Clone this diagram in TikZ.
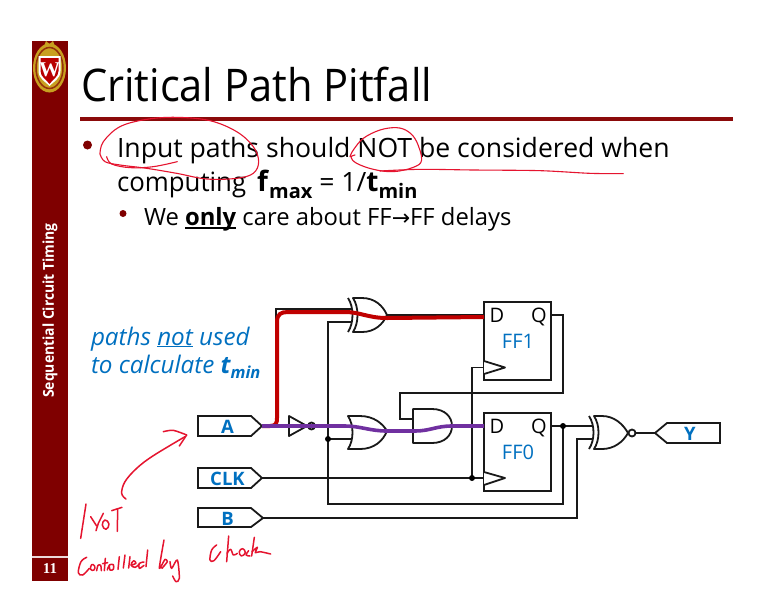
\documentclass[tikz,border=0pt]{standalone}
\usepackage{fontspec}
\setmainfont{Open Sans}
\newfontfamily\dv{DejaVu Sans}
\newfontfamily\lsr{Liberation Serif}
\usetikzlibrary{calc}
\definecolor{maroon}{HTML}{7F0000}
\definecolor{rulec}{HTML}{8B0A0A}
\definecolor{blu}{HTML}{0070C0}
\definecolor{redp}{HTML}{C00000}
\definecolor{purp}{HTML}{7030A0}
\definecolor{ink}{HTML}{E5142F}
\definecolor{gold}{HTML}{C8A020}
\newcommand{\fsz}[1]{\fontsize{#1}{#1}\selectfont}
\newcommand{\myul}[1]{\setbox0\hbox{#1}\rlap{\rule[-3.5pt]{\wd0}{1.5pt}}\box0\relax}
\tikzset{
  wire/.style={draw=black!90,line width=1.7pt,line join=miter},
  gate/.style={draw=black!90,line width=1.8pt,fill=white,line join=round},
  tagbox/.style={draw=black!90,line width=1.8pt,fill=white,line join=miter},
  taglabel/.style={text=blu,font=\bfseries\fsz{18.5}},
  ffbox/.style={draw=black!90,line width=1.8pt,fill=white,minimum width=67pt,minimum height=78pt,inner sep=0pt,outer sep=0pt},
  fflabel/.style={text=blu,font=\fsz{20},anchor=base,inner sep=0pt},
  pin/.style={text=black,font=\fsz{20},anchor=base,inner sep=0pt},
  body/.style={anchor=base west,inner sep=0pt,outer sep=0pt,text=black},
  dotj/.style={fill=black,circle,inner sep=0pt,minimum size=6pt},
  inkl/.style={draw=ink,line width=1.1pt,line cap=round,line join=round},
  inkh/.style={draw=ink,line width=1.5pt,line cap=round,line join=round},
}
\begin{document}
\begin{tikzpicture}[x=1pt,y=-1pt]
\useasboundingbox (0,0) rectangle (783,603);
\fill[white] (0,0) rectangle (783,603);
% sidebar
\fill[maroon] (32,41) rectangle (68,581);
\draw[white!85!maroon,line width=1.2pt] (32,557) -- (68,557);
\node[text=white,font=\lsr\bfseries\fsz{15}] (pagenum) at (50,568.5) {11};
\node[text=white,font=\bfseries\fsz{15},rotate=90] (sidetitle) at (50,310.5) {\scalebox{0.93}[1]{Sequential Circuit Timing}};
% crest
\fill[gold] (49.5,68) ellipse (16.5 and 24.5);
\fill[gold] (44,46) -- (46,41) -- (49.5,44) -- (53,41) -- (55,46) -- cycle;
\draw[maroon!70!gold,line width=1.5pt] (49.5,68) ellipse (13.5 and 20.5);
\fill[white] (38.5,56) -- (60.5,56) -- (60.5,71) .. controls (60.5,79) and (53,82) .. (49.5,86) .. controls (46,82) and (38.5,79) .. (38.5,71) -- cycle;
\fill[red!72!black] (40.5,58) -- (58.5,58) -- (58.5,71) .. controls (58.5,77) and (52,80) .. (49.5,84) .. controls (47,80) and (40.5,77) .. (40.5,71) -- cycle;
\node[text=white,font=\lsr\bfseries\fsz{21},inner sep=0pt] (crestw) at (49.5,69.5) {W};
% title
\node[body,font=\fsz{45}] (title) at (81,101) {\scalebox{0.925}[1]{Critical Path Pitfall}};
\draw[rulec,line width=3.2pt] (80,119) -- (733,119);
% bullets
\fill[maroon] (87.5,145) circle (4.5);
\fill[maroon] (123,213.5) circle (3.5);
\node[body,font=\fsz{26.6}] (l1) at (117,157) {Input paths should NOT be considered when};
\node[body,font=\fsz{26.6}] (l2) at (117,191) {\scalebox{0.97}[1]{computing} \hspace{4pt}\textbf{\fsz{28}f}\raisebox{-7pt}{\fsz{20}\textbf{max}} = 1/\textbf{\fsz{28}t}\raisebox{-7pt}{\fsz{20}\textbf{min}}};
\node[body,font=\fsz{23.8}] (l3) at (144,225) {We \myul{\textbf{only}} care about FF{\dv\fsz{22}→}FF delays};
% blue note
\node[body,text=blu,font=\itshape\fsz{24.2}] (n1) at (91,345) {paths \underline{not} used};
\node[body,text=blu,font=\itshape\fsz{24.2}] (n2) at (91,373) {to calculate \textbf{t}\raisebox{-5pt}{\fsz{16.5}\textbf{min}}};
% port coordinates
\coordinate (atip) at (262,426);
\coordinate (clktip) at (262,478);
\coordinate (btip) at (263,518);
\coordinate (invin) at (289,426);
\coordinate (invout) at (315.5,426);
\coordinate (ortop) at (352,426);
\coordinate (orbot) at (353,439);
\coordinate (ortip) at (387,431);
\coordinate (xortop) at (352,309);
\coordinate (xorbot) at (352,322);
\coordinate (xortip) at (387,315);
\coordinate (andtop) at (413,419);
\coordinate (andbot) at (413,431);
\coordinate (andtip) at (452,426);
\coordinate (bend1) at (276,309);
\coordinate (ja) at (328,322);
\coordinate (jor) at (328,439);
\coordinate (jb) at (328,504);
\coordinate (jq) at (563,426);
\coordinate (jclk) at (472,478);
\coordinate (xn1) at (592,426);
\coordinate (xn2) at (592,439);
\coordinate (xntip) at (635.5,433);
\coordinate (ytip) at (655,433);
% flip-flops
\node[ffbox] (ff1) at (517.5,341) {};
\node[ffbox] (ff0) at (517.5,452) {};
\coordinate (ff1d) at (ff1.west |- 0,315);
\coordinate (ff0d) at (ff0.west |- 0,426);
\coordinate (ff1q) at (ff1.east |- 0,315);
\coordinate (ff0q) at (ff0.east |- 0,426);
\coordinate (ff1c) at (ff1.west |- 0,367.5);
\coordinate (ff0c) at (ff0.west |- 0,478);
% wires
\draw[wire] (atip) -- (invin);
\draw[wire] (atip) -- (bend1 |- atip) -- (bend1) -- (xortop);
\draw[wire] (invout) -- (ortop);
\draw[wire] (xorbot) -- (ja) -- (jb) -| (jq);
\draw[wire] (orbot) -- (jor);
\draw[wire] (xortip) -- (ff1d);
\draw[wire] (ortip) -- (andbot);
\draw[wire] (andtip) -- (ff0d);
\draw[wire] (andtop) -- (400,419) -- (400,393) -- (563,393) -- (563,315) -- (ff1q);
\draw[wire] (clktip) -- (ff0c);
\draw[wire] (jclk) -- (jclk |- ff1c) -- (ff1c);
\draw[wire] (ff0q) -- (xn1);
\draw[wire] (btip) -- (577,518) -- (577,439) -- (xn2);
\draw[wire] (xntip) -- (ytip);
% FF contents
\node[fflabel] (ff1t) at (518,348) {FF1};
\node[fflabel] (ff0t) at (518,459) {FF0};
\node[pin] (d1) at (497,322) {D};
\node[pin] (q1) at (539,322) {Q};
\node[pin] (d0) at (497,433) {D};
\node[pin] (q0) at (539,433) {Q};
\draw[gate] (484,361) -- (505,367.5) -- (484,374);
\draw[gate] (484,472) -- (505,478) -- (484,485);
% tags
\draw[tagbox] (198,416) -- (251,416) -- (262,426) -- (251,436) -- (198,436) -- cycle;
\draw[tagbox] (198,468) -- (251,468) -- (262,478) -- (251,488) -- (198,488) -- cycle;
\draw[tagbox] (198,508) -- (251,508) -- (263,518) -- (251,527) -- (198,527) -- cycle;
\draw[tagbox] (655,433) -- (667,423) -- (720,423) -- (720,443) -- (667,443) -- cycle;
\node[taglabel] (ta) at (227.5,427) {A};
\node[taglabel] (tc) at (227.5,479) {CLK};
\node[taglabel] (tb) at (227.5,518.5) {B};
\node[taglabel] (ty) at (690,433.5) {Y};
% inverter
\draw[gate] (289,416) -- (307,426) -- (289,436) -- cycle;
\draw[gate] (311.5,426) circle (3.5);
% OR
\draw[gate] (348,416) -- (360,416) .. controls (374,416) and (383,424) .. (387,431) .. controls (383,441) and (374,449) .. (360,449) -- (348,449) .. controls (354,440) and (354,425) .. (348,416) -- cycle;
% XOR
\draw[gate] (353,298) -- (362,298) .. controls (375,298) and (383,306) .. (387,315) .. controls (383,324) and (375,332) .. (362,332) -- (353,332) .. controls (359,323) and (359,307) .. (353,298) -- cycle;
\draw[gate,fill=none] (348,298) .. controls (354,307) and (354,323) .. (348,332);
% AND
\draw[gate] (413,409) -- (432,409) .. controls (445,409) and (452,417) .. (452,426) .. controls (452,435) and (445,443) .. (432,443) -- (413,443) -- cycle;
% XNOR
\draw[gate] (594,416) -- (602,416) .. controls (614,416) and (623,424) .. (628,433) .. controls (623,442) and (614,449) .. (602,449) -- (594,449) .. controls (600,440) and (600,425) .. (594,416) -- cycle;
\draw[gate,fill=none] (589,416) .. controls (595,425) and (595,440) .. (589,449);
\draw[gate] (632,433) circle (3.5);
% highlighted paths
\draw[redp,line width=4pt,line join=round] (atip) -- (270,426) .. controls (276,426) and (277,423) .. (277,418) -- (277,322) .. controls (277,314) and (281,312) .. (288,312) -- (345,312) .. controls (360,312) and (368,318) .. (387,318) -- (ff1.west |- 0,317);
\draw[purp,line width=3.6pt] (atip) -- (345,426) .. controls (360,426) and (370,431) .. (387,431) -- (415,431) .. controls (430,431) and (436,426) .. (452,426) -- (ff0d);
\node[dotj] (dotclk) at (jclk) {};
\node[dotj] (dotq) at (jq) {};
\node[dotj] (dotor) at (jor) {};
% ink: circled text
\begin{scope}[shift={(20,30)},x=0.3333pt,y=-0.3333pt]
\draw[inkl] plot[smooth,tension=0.6] coordinates {(472,395)(400,410)(330,413)(275,402)(260,380)};
\draw[inkl] plot[smooth,tension=0.6] coordinates {(240,372)(250,335)(300,290)(380,268)(470,262)(570,272)(650,305)(700,350)(716,395)(700,430)(650,445)(560,447)(470,430)(380,415)(300,405)(255,395)(240,372)};
\end{scope}
\begin{scope}[shift={(240,110)},x=0.3333pt,y=-0.3333pt]
\draw[inkl] plot[smooth,tension=0.6] coordinates {(345,135)(333,142)(350,160)(400,178)(460,185)(520,172)(545,150)(530,95)(505,65)(470,53)(420,60)(370,85)(340,120)(330,140)};
\draw[inkl] plot[smooth,tension=0.5] coordinates {(420,183)(540,178)(700,180)(900,182)(1050,190)(1150,191)};
\end{scope}
% ink: arrow
\begin{scope}[shift={(70,425)},x=0.3333pt,y=-0.3333pt]
\draw[inkh] plot[smooth,tension=0.6] coordinates {(168,222)(155,205)(165,170)(200,130)(250,92)(345,35)};
\draw[inkh] plot[smooth,tension=0.5] coordinates {(280,20)(310,16)(350,30)};
\draw[inkh] (350,30) -- (328,63);
\end{scope}
% ink: NOT / controlled by
\begin{scope}[shift={(70,500)},x=0.3333pt,y=-0.3333pt]
\draw[inkh] (48,12) -- (32,115);
\draw[inkh] (62,50) -- (80,78);
\draw[inkh] (100,40) -- (85,70) -- (78,92);
\draw[inkh] plot[smooth cycle,tension=0.8] coordinates {(105,60)(117,72)(108,88)(97,75)};
\draw[inkh] (125,32) -- (156,22);
\draw[inkh] (143,26) -- (142,94);
\draw[inkh] plot[smooth,tension=0.6] coordinates {(50,172)(33,185)(25,218)(38,225)(58,205)};
\draw[inkh] plot[smooth cycle,tension=0.8] coordinates {(65,194)(74,198)(72,210)(62,208)};
\draw[inkh] plot[smooth,tension=0.5] coordinates {(80,212)(84,196)(92,196)(94,212)};
\draw[inkh] (106,175) -- (103,212);
\draw[inkh] (98,191) -- (113,188);
\draw[inkh] plot[smooth,tension=0.6] coordinates {(112,210)(118,195)(130,194)(130,208)(120,210)(118,196)};
\draw[inkh] (148,170) -- (144,208);
\draw[inkh] (165,165) -- (160,204);
\draw[inkh] (180,170) -- (176,204);
\draw[inkh] plot[smooth,tension=0.6] coordinates {(185,195)(198,190)(191,182)(183,195)(195,202)(208,192)};
\draw[inkh] plot[smooth,tension=0.6] coordinates {(222,186)(208,190)(208,205)(222,196)};
\draw[inkh] (233,150) -- (228,200);
\draw[inkh] plot[smooth,tension=0.4] coordinates {(282,120)(268,205)(285,178)(292,185)(276,205)};
\draw[inkh] plot[smooth,tension=0.5] coordinates {(300,185)(305,205)(322,180)(328,235)(318,245)(308,228)};
\end{scope}
% ink: clock
\begin{scope}[shift={(200,530)},x=0.3333pt,y=-0.3333pt]
\draw[inkh] plot[smooth,tension=0.6] coordinates {(50,45)(35,60)(30,90)(42,92)(62,65)};
\draw[inkh] (86,18) -- (80,95);
\draw[inkh] plot[smooth,tension=0.6] coordinates {(81,70)(92,58)(100,75)(112,70)};
\draw[inkh] plot[smooth cycle,tension=0.8] coordinates {(128,56)(136,68)(124,78)(118,65)};
\draw[inkh] plot[smooth,tension=0.6] coordinates {(146,62)(138,75)(150,78)};
\draw[inkh] (163,22) -- (155,78);
\draw[inkh] plot[smooth,tension=0.5] coordinates {(156,65)(172,52)(166,68)(180,65)(212,72)};
\end{scope}
\end{tikzpicture}
\end{document}
